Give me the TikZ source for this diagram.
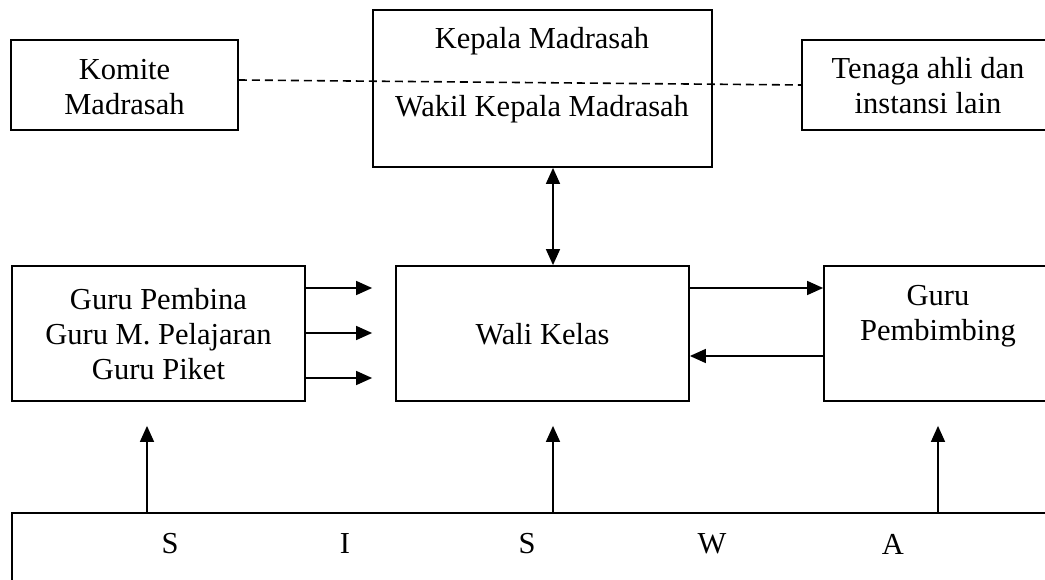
\documentclass[tikz,border=0pt]{standalone}
\usepackage{fontspec}
\setmainfont{Liberation Serif}
\usetikzlibrary{arrows.meta}
\begin{document}
\begin{tikzpicture}[x=1pt,y=-1pt,
  box/.style={draw,line width=1.8pt,fill=white,rectangle,inner sep=0pt},
  txt/.style={align=center,inner sep=0pt,font=\fontsize{30.5}{35}\selectfont},
  arr/.style={line width=1.5pt,-{Triangle[length=16pt,width=14pt]}},
  darr/.style={line width=1.5pt,{Triangle[length=16pt,width=14pt]}-{Triangle[length=16pt,width=14pt]}},
  dash line/.style={line width=1.6pt,dash pattern=on 8pt off 5pt}]
\useasboundingbox (0,0) rectangle (1045,580);
\fill[white] (0,0) rectangle (1045,580);
\clip (0,0) rectangle (1045,580);
% boxes
\node[box,minimum width=227pt,minimum height=90pt] (komite) at (124.5,85) {};
\node[box,minimum width=339pt,minimum height=157pt] (kepala) at (542.5,88.5) {};
\node[box,minimum width=250pt,minimum height=90pt] (tenaga) at (927,85) {};
\node[box,minimum width=293pt,minimum height=135pt] (gp) at (158.5,333.5) {};
\node[box,minimum width=293pt,minimum height=135pt] (wali) at (542.5,333.5) {};
\node[box,minimum width=228pt,minimum height=135pt] (pb) at (938,333.5) {};
\node[box,minimum width=1048pt,minimum height=87pt] (siswa) at (536,556.5) {};
% texts
\node[txt] (tkomite) at (124.5,87) {Komite\\Madrasah};
\node[txt] (tkepala) at (542,41) {Kepala Madrasah};
\node[txt] (twakil) at (542,109) {Wakil Kepala Madrasah};
\node[txt] (ttenaga) at (928,86) {Tenaga ahli dan\\instansi lain};
\node[txt] (tgp) at (158.5,334) {Guru Pembina\\Guru M. Pelajaran\\Guru Piket};
\node[txt] (twali) at (542.5,334) {Wali Kelas};
\node[txt] (tpb) at (938,316) {Guru\\Pembimbing};
\node[txt] (s1) at (170,544) {S};
\node[txt] (s2) at (345,544) {I};
\node[txt] (s3) at (527,544) {S};
\node[txt] (s4) at (712,544) {W};
\node[txt] (s5) at (893,544) {A};
% dashed
\draw[dash line] ([yshift=5pt]komite.east) -- (tenaga.west);
% connectors
\draw[darr] ([xshift=10.5pt]kepala.south -| wali.north) -- ([xshift=10.5pt]wali.north);
\draw[arr,shorten >=23pt] ([yshift=45.5pt]gp.east) -- ([yshift=45.5pt]wali.west);
\draw[arr,shorten >=23pt] ([yshift=0.5pt]gp.east) -- ([yshift=0.5pt]wali.west);
\draw[arr,shorten >=23pt] ([yshift=-44.5pt]gp.east) -- ([yshift=-44.5pt]wali.west);
\draw[arr] ([yshift=45.5pt]wali.east) -- ([yshift=45.5pt]pb.west);
\draw[arr] ([yshift=-22.5pt]pb.west) -- ([yshift=-22.5pt]wali.east);
\draw[arr,shorten >=24pt] ([xshift=-11.5pt]gp.south |- siswa.north) -- ([xshift=-11.5pt]gp.south);
\draw[arr,shorten >=24pt] ([xshift=10.5pt]wali.south |- siswa.north) -- ([xshift=10.5pt]wali.south);
\draw[arr,shorten >=24pt] (pb.south |- siswa.north) -- (pb.south);
\end{tikzpicture}
\end{document}
